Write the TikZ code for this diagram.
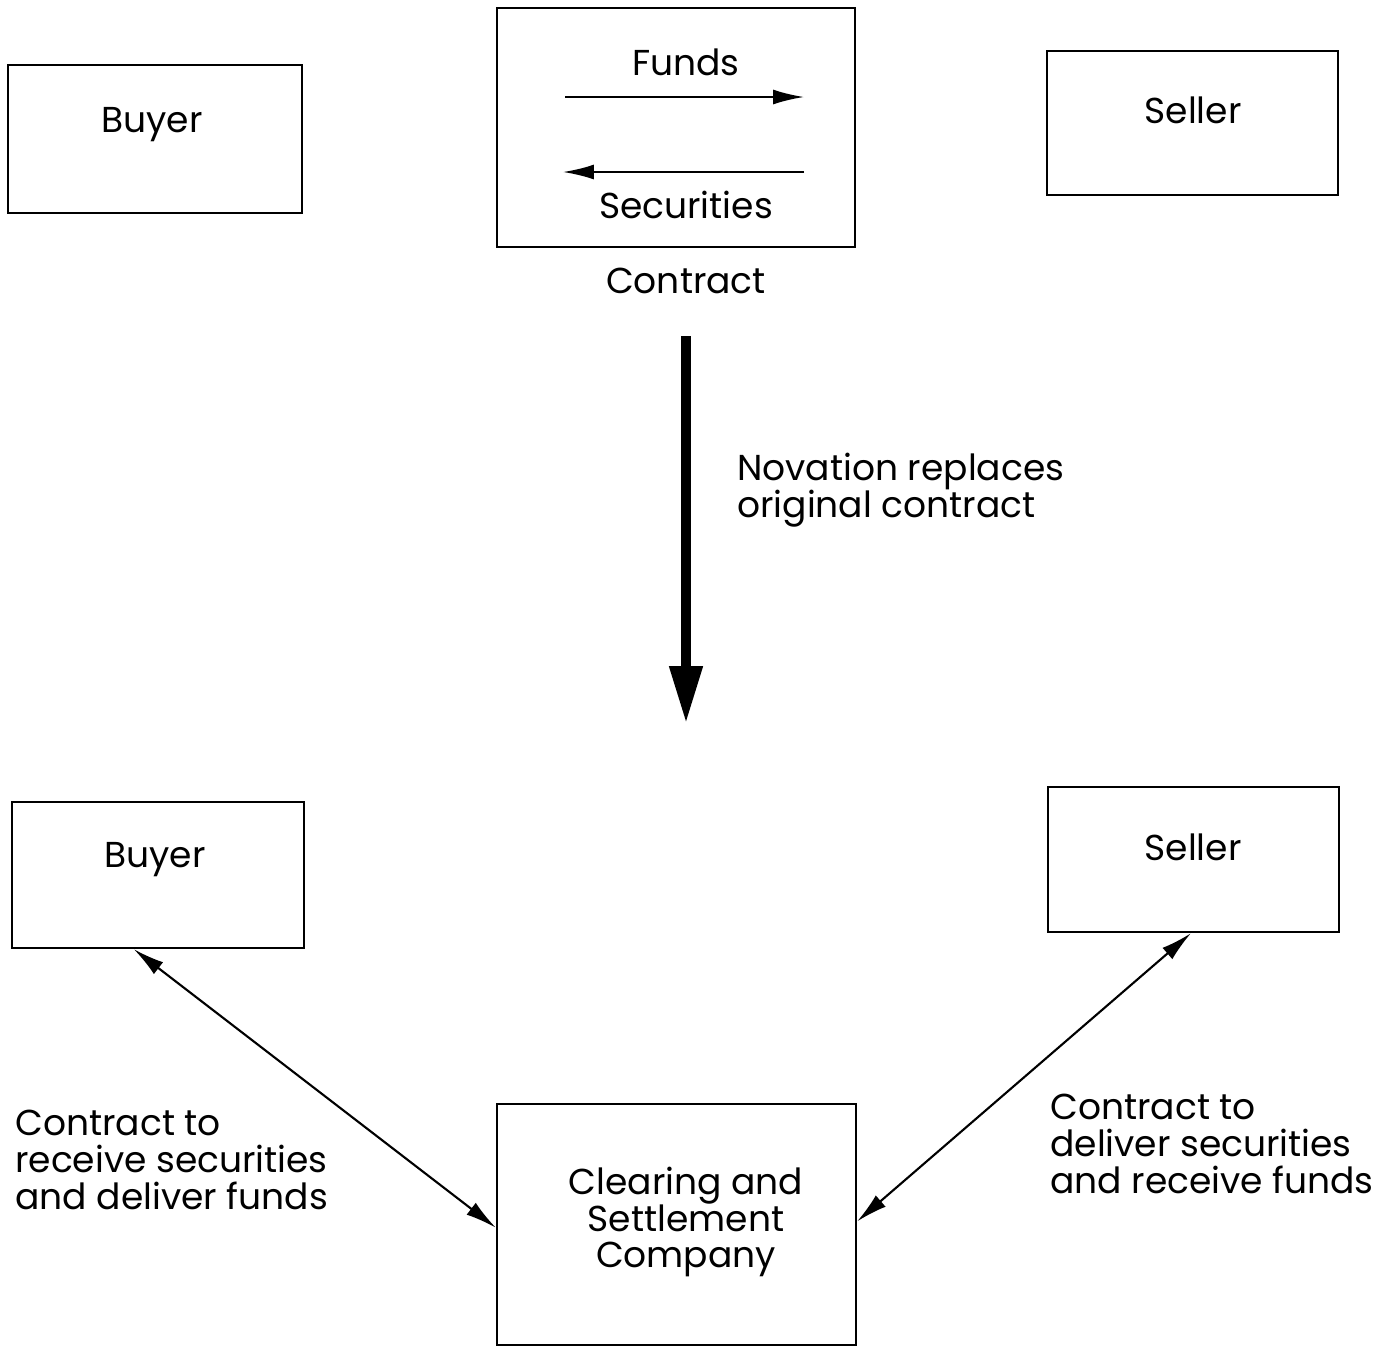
\documentclass[tikz,border=0pt]{standalone}
\usepackage{fontspec}
\setmainfont{Poppins}
\usetikzlibrary{arrows.meta}
\tikzset{
    box/.style={rectangle,draw,line width=1.4pt,inner sep=0pt},
    txt/.style={font=\fontsize{20.5}{21}\selectfont,inner sep=0pt},
    edge/.style={line width=1.2pt,-{Latex[length=0.62cm,width=0.3cm]}},
    dedge/.style={line width=1.2pt,{Latex[length=0.62cm,width=0.3cm]}-{Latex[length=0.62cm,width=0.3cm]}},
    bigedge/.style={line width=6pt,-{Triangle[length=1.16cm,width=0.62cm]}}
}

\begin{document}
\begin{tikzpicture}[x=0.02cm,y=-0.02cm]
\useasboundingbox (0,0) rectangle (1397,1347);
% before novation
\node[box,minimum width=5.88cm,minimum height=2.96cm] (buyerA) at (155,139) {};
\node[box,minimum width=7.16cm,minimum height=4.78cm] (contract) at (676,127.5) {};
\node[box,minimum width=5.82cm,minimum height=2.88cm] (sellerA) at (1192.5,123) {};
\node[txt] (buyerAt) at (152,125) {Buyer};
\node[txt] (sellerAt) at (1193,110) {Seller};
\node[txt] (funds) at (686,62) {Funds};
\node[txt] (secs) at (686,205) {Securities};
\node[txt] (contractt) at (686,281) {Contract};
\coordinate (fA) at (565,97);
\coordinate (fB) at (804,97);
\coordinate (sA) at (804,172);
\coordinate (sB) at (563,172);
\draw[edge] (fA) -- (fB);
\draw[edge] (sA) -- (sB);

% novation
\coordinate (novEnd) at (686,724);
\draw[bigedge] (contractt.south) ++(0,42) -- (novEnd);
\node[txt,align=left,anchor=west] (novation) at (737,490) {Novation replaces\\original contract};

% after novation
\node[box,minimum width=5.84cm,minimum height=2.92cm] (buyerB) at (158,875) {};
\node[box,minimum width=5.82cm,minimum height=2.90cm] (sellerB) at (1193.5,859.5) {};
\node[box,minimum width=7.18cm,minimum height=4.82cm] (clear) at (676.5,1224.5) {};
\node[txt] (buyerBt) at (155,860) {Buyer};
\node[txt] (sellerBt) at (1193,847) {Seller};
\node[txt,align=center] (cleart) at (686,1222) {Clearing and\\Settlement\\Company};
\node[txt,align=left,anchor=west] (recv) at (15,1160) {Contract to\\receive securities\\and deliver funds};
\node[txt,align=left,anchor=west] (dlvr) at (1050,1144) {Contract to\\deliver securities\\and receive funds};

\draw[dedge] (buyerB.252.5) -- (clear.181.1);
\draw[dedge] (sellerB.268.8) -- (clear.1.4);

\end{tikzpicture}
\end{document}
